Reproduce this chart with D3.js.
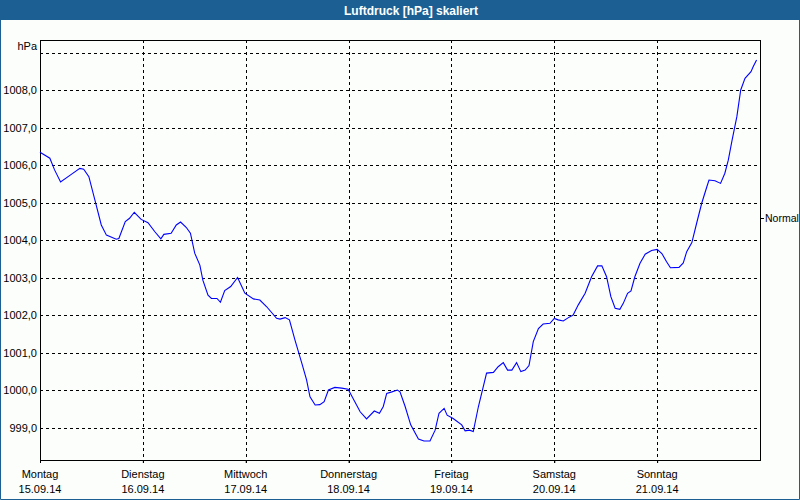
<!DOCTYPE html>
<html><head><meta charset="utf-8">
<script src="https://cdn.jsdelivr.net/npm/d3@7/dist/d3.min.js"></script>
<style>
html,body{margin:0;padding:0;background:#fcfefc;}
svg{display:block;}
text{font-family:"Liberation Sans",Arial,sans-serif;}
</style></head>
<body>
<svg id="c" width="800" height="500"></svg>
<script>
const title = "Luftdruck [hPa] skaliert";
const unitLabel = "hPa";
const dayNames = ["Montag","Dienstag","Mittwoch","Donnerstag","Freitag","Samstag","Sonntag"];
const dayDates = ["15.09.14","16.09.14","17.09.14","18.09.14","19.09.14","20.09.14","21.09.14"];
const yTicks = [999,1000,1001,1002,1003,1004,1005,1006,1007,1008,1009];
const normalValue = 1004.58;
const normalLabel = "Normal";
// hours since Monday 00:00
const hours = [0,2.3,3.4,4.8,7.3,9.3,10.2,11.4,12.8,14.3,15.5,17.8,18.4,19.9,20.9,22.0,23.6,25.2,26.8,28.2,28.9,30.6,31.8,32.8,34.1,35.1,36.1,37.3,38.0,39.2,40.0,41.3,42.1,43.1,44.5,46.1,47.0,47.8,49.8,51.3,52.9,55.2,56.0,57.2,58.2,59.5,61.1,62.2,63.0,64.2,65.3,66.3,67.3,68.8,70.4,71.9,74.7,76.2,78.0,79.2,80.1,80.9,82.1,83.4,84.0,85.2,86.5,88.3,89.6,91.0,92.2,93.1,94.3,95.0,96.4,98.4,99.2,100.2,101.1,102.3,104.2,105.8,106.9,108.1,109.1,110.1,111.2,112.2,113.2,114.1,115.1,116.3,117.4,119.0,120.0,120.9,122.1,123.3,124.4,125.6,127.2,128.7,130.1,131.1,132.2,133.2,134.2,135.3,136.1,137.1,137.9,138.8,140.0,141.2,142.7,144.0,145.1,146.2,147.1,149.1,150.1,150.9,152.1,153.2,154.4,155.6,156.1,157.5,158.8,159.8,160.6,161.5,162.6,163.5,164.5,165.9,166.4,167.2];
const pressure = [1006.34,1006.18,1005.87,1005.55,1005.75,1005.91,1005.89,1005.69,1005.07,1004.40,1004.13,1004.02,1004.04,1004.49,1004.58,1004.74,1004.55,1004.46,1004.22,1004.03,1004.15,1004.18,1004.40,1004.48,1004.34,1004.18,1003.65,1003.33,1002.93,1002.53,1002.44,1002.44,1002.34,1002.65,1002.76,1003.00,1002.78,1002.58,1002.43,1002.40,1002.22,1001.91,1001.89,1001.93,1001.87,1001.33,1000.71,1000.27,999.82,999.60,999.61,999.69,1000.00,1000.07,1000.05,1000.02,999.42,999.23,999.44,999.38,999.56,999.91,999.95,1000.00,999.95,999.56,999.07,998.69,998.64,998.64,998.93,999.38,999.51,999.33,999.24,999.07,998.91,998.93,998.89,999.56,1000.45,1000.47,1000.62,1000.73,1000.53,1000.53,1000.73,1000.49,1000.53,1000.65,1001.29,1001.64,1001.76,1001.78,1001.91,1001.87,1001.84,1001.93,1002.00,1002.27,1002.58,1003.02,1003.31,1003.31,1003.02,1002.49,1002.18,1002.15,1002.31,1002.58,1002.64,1003.02,1003.38,1003.62,1003.72,1003.75,1003.64,1003.42,1003.26,1003.27,1003.39,1003.69,1003.93,1004.44,1004.98,1005.42,1005.60,1005.58,1005.51,1005.78,1006.13,1006.67,1007.29,1008.00,1008.31,1008.49,1008.62,1008.80];

const W = 800, H = 500;
const L = 40, R = 760, T = 40, B = 460;
const svg = d3.select("#c");

// frame
svg.append("rect").attr("x",0).attr("y",0).attr("width",W).attr("height",H).attr("fill","#fcfefc");
svg.append("rect").attr("x",0).attr("y",0).attr("width",W).attr("height",20).attr("fill","#1c5f93");
svg.append("path").attr("d",`M0.5,20V499.5H799.5V20`).attr("fill","none").attr("stroke","#1c5f93").attr("stroke-width",1);
svg.append("text").attr("x",411).attr("y",15).attr("text-anchor","middle")
  .attr("fill","#fff").attr("font-weight","bold").attr("font-size","12px").text(title);

const x = d3.scaleLinear().domain([0, 168]).range([L, R]);
const y = d3.scaleLinear().domain([1008, 1000]).range([90, 390]);

// grid
const g = svg.append("g");
g.selectAll("line.h").data(yTicks).join("line")
  .attr("x1",L).attr("x2",R).attr("y1",d=>Math.round(y(d))+0.5).attr("y2",d=>Math.round(y(d))+0.5)
  .attr("stroke","#000").attr("stroke-dasharray","3,3").attr("shape-rendering","crispEdges");
const dayHours = d3.range(1,7).map(i=>i*24);
g.selectAll("line.v").data(dayHours).join("line")
  .attr("x1",d=>Math.round(x(d))+0.5).attr("x2",d=>Math.round(x(d))+0.5).attr("y1",T).attr("y2",B+3)
  .attr("stroke","#000").attr("stroke-dasharray","3,3").attr("shape-rendering","crispEdges");

// axes (left & bottom frame)
const yAxis = d3.axisLeft(y).tickValues(yTicks.filter(v=>v<1009)).tickSize(0).tickPadding(3)
  .tickFormat(d=>d3.format(".1f")(d).replace(".",","));
const ya = svg.append("g").attr("transform",`translate(${L},0)`).call(yAxis);
ya.select(".domain").remove();
ya.selectAll("text").attr("font-size","11px").attr("font-family","Liberation Sans, Arial, sans-serif").attr("fill","#000").attr("dy","0.35em");

const xAxis = d3.axisBottom(x).tickValues(d3.range(0,7).map(i=>i*24)).tickSize(3).tickFormat("");
const xa = svg.append("g").attr("transform",`translate(0,${B})`).call(xAxis);
xa.select(".domain").remove();
xa.selectAll("line").attr("stroke","#000");

svg.append("path").attr("d",`M${L+0.5},${T}V${B+0.5}H${R+0.5}V${T+0.5}H${L}`).attr("fill","none")
  .attr("stroke","#000").attr("stroke-width",1).attr("shape-rendering","crispEdges");

svg.append("text").attr("x",37).attr("y",50).attr("text-anchor","end").attr("font-size","11px").text(unitLabel);

const lbl = svg.append("g");
dayNames.forEach((n,i)=>{
  lbl.append("text").attr("x",x(i*24)).attr("y",478).attr("text-anchor","middle").attr("font-size","11px").text(n);
  lbl.append("text").attr("x",x(i*24)).attr("y",493).attr("text-anchor","middle").attr("font-size","11px").text(dayDates[i]);
});

// normal marker
svg.append("line").attr("x1",R+1).attr("x2",R+4).attr("y1",Math.round(y(normalValue))+0.5).attr("y2",Math.round(y(normalValue))+0.5)
  .attr("stroke","#000").attr("shape-rendering","crispEdges");
svg.append("text").attr("x",R+5).attr("y",y(normalValue)).attr("dy","0.35em").attr("font-size","10.5px").text(normalLabel);

// data line
const data = hours.map((h,i)=>({h, v: pressure[i]}));
svg.append("path").datum(data)
  .attr("d", d3.line().x(d=>x(d.h)).y(d=>y(d.v)))
  .attr("fill","none").attr("stroke","#0000ff").attr("stroke-width",1.1);
</script>
</body></html>
